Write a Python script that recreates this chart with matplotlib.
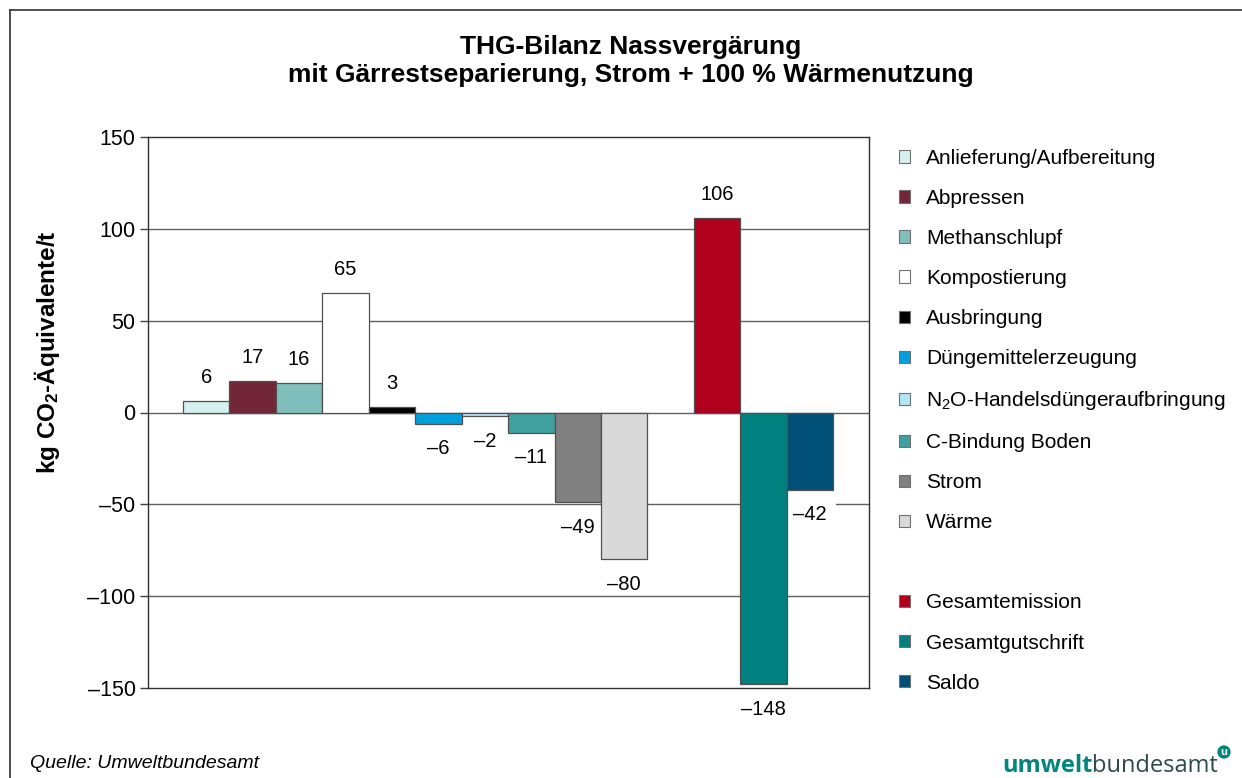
import matplotlib
matplotlib.use('Agg')
import matplotlib.pyplot as plt
from matplotlib.patches import Patch
from matplotlib.lines import Line2D

plt.rcParams['font.family'] = ['Liberation Sans', 'DejaVu Sans']
plt.rcParams['mathtext.default'] = 'regular'

# Einzelposten
posten = ['Anlieferung/Aufbereitung', 'Abpressen', 'Methanschlupf', 'Kompostierung',
          'Ausbringung', 'Düngemittelerzeugung', 'N$_2$O-Handelsdüngeraufbringung',
          'C-Bindung Boden', 'Strom', 'Wärme']
werte = [6, 17, 16, 65, 3, -6, -2, -11, -49, -80]
farben = ['#D6EFEF', '#722637', '#80BFBC', '#FFFFFF', '#000000',
          '#00A0DC', '#B3E5F8', '#40A09F', '#808080', '#D9D9D9']

# Summen
summen = ['Gesamtemission', 'Gesamtgutschrift', 'Saldo']
summen_werte = [106, -148, -42]
summen_farben = ['#B0001E', '#00807F', '#005077']

yticks = [-150, -100, -50, 0, 50, 100, 150]

fig = plt.figure(figsize=(12.42, 7.78), dpi=100)
ax = fig.add_axes([148 / 1242, 1 - 688 / 778, 721 / 1242, 551 / 778])

x1 = list(range(len(werte)))
x2 = [len(werte) + 1 + i for i in range(len(summen_werte))]

ax.bar(x1, werte, width=1.0, color=farben, edgecolor='#505050', linewidth=0.9, zorder=3)
ax.bar(x2, summen_werte, width=1.0, color=summen_farben, edgecolor='#505050', linewidth=0.9, zorder=3)


def fmt(v):
    return str(v).replace('-', '\u2013')


for x, v in zip(x1, werte):
    ax.annotate(fmt(v), (x, v), xytext=(0, 17 if v > 0 else -18), textcoords='offset points',
                ha='center', va='center', fontsize=14.5, zorder=5)
for x, v in zip(x2, summen_werte):
    ax.annotate(fmt(v), (x, v), xytext=(0, 17 if v > 0 else -18), textcoords='offset points',
                ha='center', va='center', fontsize=14.5, zorder=2, annotation_clip=False,
                bbox=dict(boxstyle='square,pad=0.45', fc='white', ec='none'))

ax.set_xlim(-1.254, 14.27)
ax.set_ylim(-150, 150)
ax.set_xticks([])
ax.set_yticks(yticks)
ax.set_yticklabels([fmt(t) for t in yticks], fontsize=15.5)
ax.tick_params(axis='y', direction='out', length=6, width=1, color='#404040', pad=3)
for t in [-100, -50, 0, 50, 100]:
    ax.axhline(t, color='#606060', linewidth=1.0, zorder=1)
for s in ax.spines.values():
    s.set_color('#303030')
    s.set_linewidth(1.0)

# Legende mit Leerzeile
handles = [Patch(facecolor=c, edgecolor='#707070', linewidth=0.8) for c in farben]
handles.append(Patch(facecolor='none', edgecolor='none'))
handles += [Patch(facecolor=c, edgecolor='#707070', linewidth=0.8) for c in summen_farben]
labels = posten + [' '] + summen
fig.legend(handles, labels, loc='upper left', bbox_to_anchor=(899 / 1242, 1 - 149 / 778),
           frameon=False, fontsize=15, handlelength=0.55, handleheight=0.55,
           handletextpad=0.75, labelspacing=1.01, borderaxespad=0, borderpad=0)

fig.text(47 / 1242, 1 - 352 / 778, 'kg CO$_2$-Äquivalente/t', rotation=90, ha='center', va='center',
         fontsize=17.5, fontweight='bold')

fig.text(631 / 1242, 1 - 61 / 778,
         'THG-Bilanz Nassvergärung\nmit Gärrestseparierung, Strom + 100 % Wärmenutzung',
         ha='center', va='center', fontsize=19, fontweight='bold', linespacing=1.25)

fig.text(30 / 1242, 1 - 764 / 778, 'Quelle: Umweltbundesamt', ha='left', va='center',
         fontsize=14, style='italic')

# Logo-Schriftzug
t1 = fig.text(1002 / 1242, 1 - 766 / 778, 'umwelt', ha='left', va='center', fontsize=17,
              fontweight='bold', color='#00857F', family='Open Sans')
fig.canvas.draw()
bb = t1.get_window_extent()
fig.text(bb.x1 / 1242, 1 - 766 / 778, 'bundesamt', ha='left', va='center', fontsize=17,
         color='#2F4A4A', family='Open Sans')
fig.text(1224 / 1242, 1 - 752 / 778, 'u', ha='center', va='center', fontsize=8,
         fontweight='bold', color='white',
         bbox=dict(boxstyle='circle,pad=0.15', fc='#00857F', ec='none'))

# Rahmen
fig.add_artist(Line2D([10 / 1242, 1.0], [1 - 10 / 778, 1 - 10 / 778], color='#303030', linewidth=1.2))
fig.add_artist(Line2D([10 / 1242, 10 / 1242], [1 - 10 / 778, 0.0], color='#303030', linewidth=1.2))

fig.savefig('out.png', dpi=100)
